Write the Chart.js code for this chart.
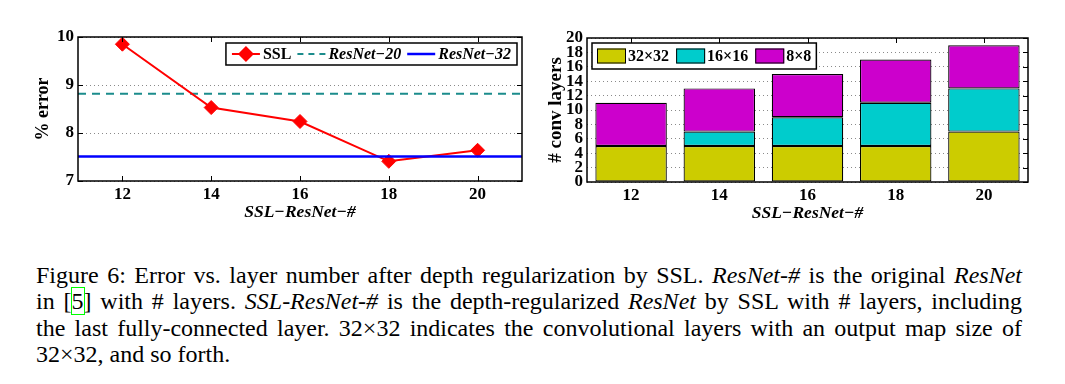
<!DOCTYPE html>
<html>
<head>
<meta charset="utf-8">
<script src="https://cdn.jsdelivr.net/npm/chart.js@4.4.1/dist/chart.umd.min.js"></script>
<style>
  html, body { margin: 0; padding: 0; background: #fff; }
  body { width: 1065px; height: 384px; position: relative; overflow: hidden; }
  #errChart { position: absolute; left: 0; top: 0; }
  #layerChart { position: absolute; left: 535px; top: 0; }
  #caption {
    position: absolute; left: 36px; top: 261.5px; width: 986px;
    font-family: "Liberation Serif", "Times New Roman", serif;
    font-size: 24px; line-height: 26.5px; color: #000; word-spacing: -2px;
  }
  #caption .ln { text-align: justify; text-align-last: justify; white-space: nowrap; }
  #caption .ln.last { text-align-last: left; word-spacing: 0; }
  #caption .ref { outline: 1px solid #00ff00; outline-offset: 0; }
</style>
</head>
<body>
<canvas id="errChart" width="535" height="230"></canvas>
<canvas id="layerChart" width="530" height="230"></canvas>
<div id="caption">
  <div class="ln">Figure 6: Error vs. layer number after depth regularization by SSL. <i>ResNet-#</i> is the original <i>ResNet</i></div>
  <div class="ln">in [<span class="ref">5</span>] with # layers. <i>SSL-ResNet-#</i> is the depth-regularized <i>ResNet</i> by SSL with # layers, including</div>
  <div class="ln">the last fully-connected layer. 32×32 indicates the convolutional layers with an output map size of</div>
  <div class="ln last">32×32, and so forth.</div>
</div>
<script>
// left chart: % error
const sslLayers = [12, 14, 16, 18, 20];
const sslError = [9.85, 8.53, 8.24, 7.41, 7.64];
const resnet20Error = 8.82;
const resnet32Error = 7.51;
const xMin = 11, xMax = 21;

// right chart: # conv layers
const netLabels = ['12', '14', '16', '18', '20'];
const conv32 = [5, 5, 5, 5, 7];
const conv16 = [0, 2, 4, 6, 6];
const conv8 = [6, 6, 6, 6, 6];

const serif = '"Liberation Serif", "Times New Roman", serif';
const xTitle = 'SSL\u2212ResNet\u2212#';

// box round the plot with tick marks pointing inwards
const framePlugin = {
    id: 'frame',
    afterDatasetsDraw(chart, args, opts) {
        const ctx = chart.ctx;
        const a = chart.chartArea;
        const xs = chart.scales.x, ys = chart.scales.y;
        const len = 5;
        ctx.save();
        ctx.strokeStyle = '#000';
        ctx.lineWidth = 1;
        ctx.beginPath();
        xs.ticks.forEach((t, i) => {
            const px = Math.round(xs.getPixelForTick(i)) + 0.5;
            ctx.moveTo(px, a.top); ctx.lineTo(px, a.top + len);
            if (opts.bottom) { ctx.moveTo(px, a.bottom); ctx.lineTo(px, a.bottom - len); }
        });
        ys.ticks.forEach((t, i) => {
            const py = Math.round(ys.getPixelForTick(i)) + 0.5;
            ctx.moveTo(a.right, py); ctx.lineTo(a.right - len, py);
            if (opts.left) { ctx.moveTo(a.left, py); ctx.lineTo(a.left + len, py); }
        });
        ctx.stroke();
        ctx.lineWidth = 1.5;
        ctx.strokeRect(a.left, a.top, a.right - a.left, a.bottom - a.top);
        ctx.restore();
    }
};

// legend box in the top corner of the plot
const legendPlugin = {
    id: 'boxLegend',
    afterDraw(chart, args, opts) {
        const ctx = chart.ctx;
        const a = chart.chartArea;
        const items = opts.items;
        ctx.save();
        let w = opts.pad;
        items.forEach((it, i) => {
            ctx.font = it.font;
            it.tw = ctx.measureText(it.text).width;
            w += opts.mark + opts.gap + it.tw + (i < items.length - 1 ? opts.sep : opts.pad);
        });
        const h = opts.height;
        const left = opts.align === 'right' ? a.right - opts.dx - w : a.left + opts.dx;
        const top = a.top + opts.dy;
        ctx.fillStyle = '#fff';
        ctx.fillRect(left, top, w, h);
        ctx.strokeStyle = '#000';
        ctx.lineWidth = 1.5;
        ctx.strokeRect(left, top, w, h);
        const cy = top + h / 2;
        let x = left + opts.pad;
        items.forEach((it) => {
            if (it.kind === 'swatch') {
                ctx.fillStyle = it.color;
                ctx.fillRect(x, cy - 7.5, opts.mark, 15);
                ctx.lineWidth = 1;
                ctx.strokeStyle = '#000';
                ctx.strokeRect(x + 0.5, cy - 7, opts.mark - 1, 14);
            } else {
                ctx.strokeStyle = it.color;
                ctx.lineWidth = it.width;
                ctx.setLineDash(it.dash || []);
                ctx.beginPath();
                ctx.moveTo(x, cy); ctx.lineTo(x + opts.mark, cy);
                ctx.stroke();
                ctx.setLineDash([]);
                if (it.kind === 'diamond') {
                    const mx = x + opts.mark / 2, r = 8;
                    ctx.fillStyle = it.color;
                    ctx.beginPath();
                    ctx.moveTo(mx - r, cy); ctx.lineTo(mx, cy - r);
                    ctx.lineTo(mx + r, cy); ctx.lineTo(mx, cy + r);
                    ctx.closePath();
                    ctx.fill();
                }
            }
            x += opts.mark + opts.gap;
            ctx.font = it.font;
            ctx.fillStyle = '#000';
            ctx.textBaseline = 'middle';
            ctx.fillText(it.text, x, cy + 1);
            x += it.tw + opts.sep;
        });
        ctx.restore();
    }
};

const tickFont = { family: serif, size: 17, weight: 'bold' };
const titleFont = { family: serif, size: 17.5, weight: 'bold', style: 'italic' };

new Chart(document.getElementById('errChart'), {
    type: 'line',
    data: {
        datasets: [{
            label: 'SSL',
            data: sslLayers.map((v, i) => ({ x: v, y: sslError[i] })),
            borderColor: '#ff0000',
            backgroundColor: '#ff0000',
            borderWidth: 2,
            pointStyle: 'rectRot',
            pointRadius: 7,
            pointBorderWidth: 1,
            order: 1,
        }, {
            label: 'ResNet-20',
            data: [{ x: xMin, y: resnet20Error }, { x: xMax, y: resnet20Error }],
            borderColor: '#1b8c8c',
            borderWidth: 2,
            borderDash: [8, 6],
            pointRadius: 0,
            order: 2,
        }, {
            label: 'ResNet-32',
            data: [{ x: xMin, y: resnet32Error }, { x: xMax, y: resnet32Error }],
            borderColor: '#0000ff',
            borderWidth: 2.5,
            pointRadius: 0,
            order: 0,
        }]
    },
    options: {
        responsive: false,
        animation: false,
        layout: { padding: { left: 0, right: 13, top: 37, bottom: 0 } },
        scales: {
            x: {
                type: 'linear',
                min: xMin,
                max: xMax,
                afterBuildTicks: (s) => { s.ticks = sslLayers.map(v => ({ value: v })); },
                afterFit: (s) => { s.height = 49; },
                grid: { display: false, drawTicks: false },
                border: { display: false },
                ticks: { font: tickFont, color: '#000', padding: 3, maxRotation: 0 },
                title: { display: true, text: xTitle, font: titleFont, color: '#000', padding: { top: 0, bottom: 7.5 } },
            },
            y: {
                min: 7,
                max: 10,
                afterFit: (s) => { s.width = 78; },
                grid: { color: '#8a8a8a', lineWidth: 1, drawTicks: false },
                border: { display: false, dash: [1, 3] },
                ticks: { stepSize: 1, font: tickFont, color: '#000', padding: 4 },
                title: { display: true, text: '% error', font: { family: serif, size: 18, weight: 'bold' }, color: '#000', padding: { top: 33, bottom: 0 } },
            },
        },
        plugins: {
            legend: { display: false },
            tooltip: { enabled: false },
            frame: { bottom: true, left: true },
            boxLegend: {
                align: 'right', dx: 5, dy: 6, height: 22, pad: 6, mark: 28, gap: 3, sep: 6,
                items: [
                    { kind: 'diamond', text: 'SSL', color: '#ff0000', width: 2, font: 'bold 16px ' + serif },
                    { kind: 'line', text: 'ResNet\u221220', color: '#1b8c8c', width: 2, dash: [6, 5], font: 'italic bold 16px ' + serif },
                    { kind: 'line', text: 'ResNet\u221232', color: '#0000ff', width: 2.5, font: 'italic bold 16px ' + serif },
                ]
            },
        },
    },
    plugins: [framePlugin, legendPlugin],
});

const barBase = { borderColor: '#000', borderWidth: 1.2, borderSkipped: false, barPercentage: 0.81, categoryPercentage: 1 };

new Chart(document.getElementById('layerChart'), {
    type: 'bar',
    data: {
        labels: netLabels,
        datasets: [
            Object.assign({ label: '32\u00d732', data: conv32, backgroundColor: '#cccc00' }, barBase),
            Object.assign({ label: '16\u00d716', data: conv16, backgroundColor: '#00cccc' }, barBase),
            Object.assign({ label: '8\u00d78', data: conv8, backgroundColor: '#cc00cc' }, barBase),
        ]
    },
    options: {
        responsive: false,
        animation: false,
        layout: { padding: { left: 0, right: 37, top: 38, bottom: 0 } },
        scales: {
            x: {
                stacked: true,
                afterFit: (s) => { s.height = 48; },
                grid: { display: false, drawTicks: false },
                border: { display: false },
                ticks: { font: tickFont, color: '#000', padding: 3, maxRotation: 0 },
                title: { display: true, text: xTitle, font: titleFont, color: '#000', padding: { top: 0, bottom: 6.5 } },
            },
            y: {
                stacked: true,
                min: 0,
                max: 20,
                afterFit: (s) => { s.width = 52; },
                grid: { color: '#8a8a8a', lineWidth: 1, drawTicks: false },
                border: { display: false, dash: [1, 3] },
                ticks: { stepSize: 2, font: tickFont, color: '#000', padding: 4, autoSkip: false },
                title: { display: true, text: '# conv layers', font: { family: serif, size: 19, weight: 'bold' }, color: '#000', padding: { top: 10, bottom: 0 } },
            },
        },
        plugins: {
            legend: { display: false },
            tooltip: { enabled: false },
            frame: { bottom: false, left: false },
            boxLegend: {
                align: 'left', dx: 5, dy: 5, height: 26, pad: 5, mark: 29, gap: 2, sep: 7,
                items: [
                    { kind: 'swatch', text: '32\u00d732', color: '#cccc00', font: 'bold 16px ' + serif },
                    { kind: 'swatch', text: '16\u00d716', color: '#00cccc', font: 'bold 16px ' + serif },
                    { kind: 'swatch', text: '8\u00d78', color: '#cc00cc', font: 'bold 16px ' + serif },
                ]
            },
        },
    },
    plugins: [framePlugin, legendPlugin],
});
</script>
</body>
</html>
